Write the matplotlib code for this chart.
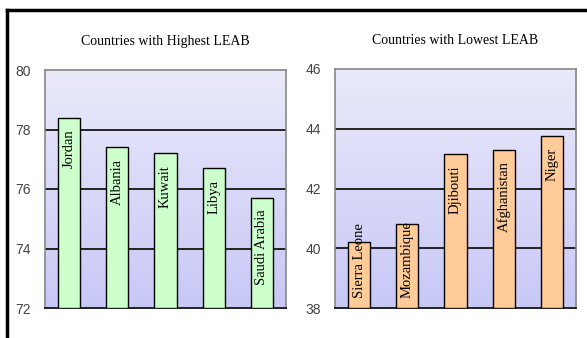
import matplotlib
matplotlib.use("Agg")
import matplotlib.pyplot as plt
import numpy as np
from matplotlib.lines import Line2D

# life expectancy at birth (years)
high_countries = ["Jordan", "Albania", "Kuwait", "Libya", "Saudi Arabia"]
high_values = [78.4, 77.4, 77.2, 76.7, 75.7]
low_countries = ["Sierra Leone", "Mozambique", "Djibouti", "Afghanistan", "Niger"]
low_values = [40.2, 40.8, 43.15, 43.3, 43.77]

SERIF = ["Liberation Serif", "DejaVu Serif"]
TICKFONT = ["Liberation Sans Narrow", "Liberation Sans", "DejaVu Sans"]

fig = plt.figure(figsize=(5.87, 3.38), dpi=100)
W, H = 587, 338


def px_axes(x0, y0, x1, y1):
    return fig.add_axes([x0 / W, 1 - y1 / H, (x1 - x0) / W, (y1 - y0) / H])


grad = np.linspace(0, 1, 256).reshape(-1, 1, 1)
top_c = np.array([234, 234, 251]) / 255
bot_c = np.array([200, 200, 246]) / 255
grad_img = top_c + (bot_c - top_c) * grad


def panel(ax, names, values, ylim, color, title):
    ax.imshow(grad_img, extent=(0, 1, 0, 1), transform=ax.transAxes,
              aspect="auto", zorder=0)
    x = np.arange(len(names))
    ax.bar(x, np.array(values) - ylim[0], bottom=ylim[0], width=0.46,
           color=color, edgecolor="black", linewidth=1.0, zorder=3)
    ax.set_xlim(-0.5, len(names) - 0.5)
    ax.set_ylim(*ylim)
    ax.set_yticks(np.arange(ylim[0], ylim[1] + 1, 2))
    for t in ax.get_yticklabels():
        t.set_family(TICKFONT)
        t.set_fontsize(10)
        t.set_color("#444444")
    ax.set_xticks([])
    ax.tick_params(axis="y", length=0, pad=10)
    for y in np.arange(ylim[0] + 2, ylim[1], 2):
        ax.axhline(y, color="#222222", lw=1.4, zorder=2)
    for s in ["top", "right", "left"]:
        ax.spines[s].set_color("#888888")
        ax.spines[s].set_linewidth(1.2)
    ax.spines["bottom"].set_color("#222222")
    ax.spines["bottom"].set_linewidth(1.4)
    ax.set_title(title, family=SERIF, fontsize=10, pad=18)

    fig.canvas.draw()
    r = fig.canvas.get_renderer()
    y_base = ax.transData.transform((0, ylim[0]))[1]
    for xi, v, name in zip(x, values, names):
        t = ax.annotate(name, (xi, v), xytext=(0, -8.5), textcoords="offset points",
                        rotation=90, ha="center", va="top", family=SERIF,
                        fontsize=10.5, zorder=4)
        bb = t.get_window_extent(r)
        if bb.y0 < y_base + 6:
            t.remove()
            ax.annotate(name, (xi, ylim[0]), xytext=(0, 7), textcoords="offset points",
                        rotation=90, ha="center", va="bottom", family=SERIF,
                        fontsize=10.5, zorder=4)


ax1 = px_axes(45, 70, 286, 308)
ax2 = px_axes(335, 69, 576, 308)
panel(ax1, high_countries, high_values, (72, 80), "#CCFFCC",
      "Countries with Highest LEAB")
panel(ax2, low_countries, low_values, (38, 46), "#FFCC99",
      "Countries with Lowest LEAB")

# outer frame (top and left edges)
fig.add_artist(Line2D([6.5 / W, 1], [1 - 10 / H, 1 - 10 / H], color="black",
                      lw=2.5, transform=fig.transFigure))
fig.add_artist(Line2D([6.5 / W, 6.5 / W], [1 - 10 / H, 0], color="black",
                      lw=2.5, transform=fig.transFigure))

fig.savefig("out.png", dpi=100)
